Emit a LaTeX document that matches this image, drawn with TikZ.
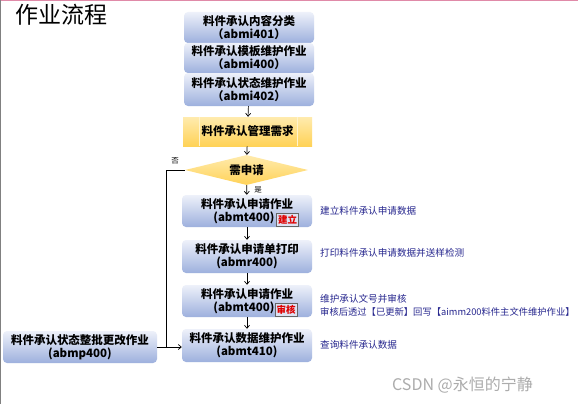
\documentclass[tikz,border=0pt]{standalone}
\usepackage{fontspec}
\setmainfont{Noto Sans CJK SC}
\usetikzlibrary{arrows.meta,shapes.geometric}
\definecolor{boxtop}{HTML}{EEF1FA}
\definecolor{boxbot}{HTML}{9DB0DD}
\definecolor{ylwa}{HTML}{FFEBAE}
\definecolor{ylwb}{HTML}{FFD257}
\definecolor{ylwline}{HTML}{FFF3CC}
\definecolor{notecol}{HTML}{26268E}
\definecolor{tagred}{HTML}{E00000}
\definecolor{tagfill}{HTML}{DCE2F2}
\definecolor{topline}{HTML}{E08AA8}
\begin{document}
\begin{tikzpicture}[x=1pt,y=-1pt,
  procbox/.style={rounded corners=4pt, top color=boxtop, bottom color=boxbot,
    draw=none, minimum width=130pt, align=center, inner sep=0pt,
    font=\bfseries\fontsize{11.5}{13}\selectfont},
  tagbox/.style={draw=gray!80!black, fill=tagfill, text=tagred, inner sep=0pt,
    minimum width=22pt, minimum height=13pt, font=\bfseries\fontsize{9.5}{10}\selectfont},
  note/.style={text=notecol, inner sep=0pt, anchor=west, align=left,
    font=\fontsize{9.6}{13.5}\selectfont},
  arr/.style={-{Straight Barb[length=3pt,width=5pt]}, line width=0.7pt, black},
  small/.style={inner sep=0pt, font=\fontsize{7.5}{8}\selectfont}
]
\useasboundingbox (0,0) rectangle (578,404);
\fill[white] (0,0) rectangle (578,404);
\draw[topline, line width=1.5pt] (0,0.75) -- (578,0.75);
\draw[gray, line width=1pt] (0.5,0) -- (0.5,404);

\node[anchor=west, inner sep=0pt, font=\fontsize{23}{25}\selectfont] (title) at (15,15) {作业流程};

% top stack
\node[procbox, minimum height=31pt] (b1) at (249,27.5) {料件承认内容分类\\（abmi401）};
\node[procbox, minimum height=30pt] (b2) at (249,58) {料件承认模板维护作业\\（abmi400）};
\node[procbox, minimum height=33pt] (b3) at (249,89.5) {料件承认状态维护作业\\（abmi402）};

% need box
\node[top color=ylwa, bottom color=ylwb, draw=none, minimum width=129pt, minimum height=29pt,
  inner sep=0pt, font=\bfseries\fontsize{11.5}{13}\selectfont] (need) at (247.5,131.5) {料件承认管理需求};
\draw[ylwline, line width=0.8pt] ([xshift=17pt]need.north west) -- ([xshift=17pt]need.south west);
\draw[ylwline, line width=0.8pt] ([xshift=-15pt]need.north east) -- ([xshift=-15pt]need.south east);

% decision
\node[diamond, shape aspect=4, minimum width=123pt, minimum height=30pt, inner sep=0pt,
  top color=ylwa, bottom color=ylwb, draw=none,
  font=\bfseries\fontsize{11.5}{13}\selectfont] (ask) at (246.5,170) {需申请};

% main flow
\node[procbox, minimum height=32pt] (b4) at (247,211) {料件承认申请作业\\(abmt400)\hspace*{6pt}};
\node[tagbox] (t1) at (287.5,220) {建立};
\node[procbox, minimum height=33pt] (b5) at (247,256.5) {料件承认申请单打印\\(abmr400)};
\node[procbox, minimum height=32pt] (b6) at (247,301) {料件承认申请作业\\(abmt400)\hspace*{6pt}};
\node[tagbox] (t2) at (286,310) {审核};
\node[procbox, minimum height=33pt] (b7) at (247,345.5) {料件承认数据维护作业\\(abmt410)};

\node[procbox, minimum width=154pt, minimum height=32pt] (bp) at (80,347) {料件承认状态整批更改作业\\(abmp400)};

% connectors
\draw[arr] (b3) -- (need);
\draw[arr] (need) -- (ask);
\draw[arr] (ask) -- (b4);
\draw[arr] (b4) -- (b5);
\draw[arr] (b5) -- (b6);
\draw[arr] (b6) -- (b7);
\coordinate (j) at (166,347);
\draw[line width=0.7pt] (ask.west) -| (j);
\draw[line width=0.7pt] (bp.east |- j) -- (j);
\draw[arr] (j) -- (b7.west |- j);

\node[small] (yes) at (258,190) {是};
\node[small] (no) at (175,161) {否};

% notes
\node[note] (n1) at (320,211) {建立料件承认申请数据};
\node[note] (n2) at (320,253) {打印料件承认申请数据并送样检测};
\node[note, anchor=north west] (n3) at (320,294) {维护承认文号并审核\\{\fontsize{9.3}{13.5}\selectfont 审核后透过【已更新】回写【aimm200料件主文件维护作业】}};
\node[note] (n4) at (320,345) {查询料件承认数据};

\node[anchor=west, inner sep=0pt, text=gray!65, font=\fontsize{16}{18}\selectfont] (wm) at (392,385) {CSDN @永恒的宁静};
\end{tikzpicture}
\end{document}
